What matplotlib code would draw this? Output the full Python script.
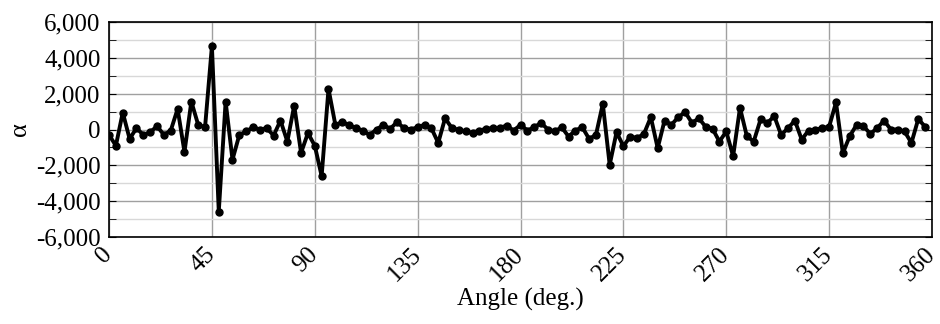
import numpy as np
import matplotlib
matplotlib.use("Agg")
import matplotlib.pyplot as plt
from matplotlib.ticker import FuncFormatter, MultipleLocator

plt.rcParams['font.family'] = ['Liberation Serif', 'DejaVu Serif']
plt.rcParams['mathtext.fontset'] = 'stix'

angles = np.arange(0, 360, 3)
alpha_values = [
    -300, -900, 950, -520, 75, -300, -150, 190, -300, -55,
    1150, -1250, 1560, 260, 130, 4650, -4580, 1560, -1680, -300,
    -110, 130, 0, 75, -335, 500, -670, 1340, -1300, -200,
    -900, -2600, 2270, 260, 410, 260, 75, -55, -300, 0,
    260, 40, 420, 75, 0, 130, 260, 75, -745, 630,
    75, -20, -110, -190, -55, 40, 75, 100, 220, -55,
    260, -55, 130, 370, 0, -110, 130, -390, -55, 130,
    -520, -300, 1430, -1970, -150, -930, -390, -480, -240, 690,
    -1040, 500, 260, 690, 970, 370, 630, 150, 40, -670,
    -110, -1490, 1210, -370, -670, 560, 370, 745, -300, 75,
    500, -560, -55, 0, 75, 160, 1510, -1320, -370, 260,
    190, -240, 75, 500, 0, 0, -110, -745, 590, 150,
]
x_ticks = [0, 45, 90, 135, 180, 225, 270, 315, 360]
y_ticks = [-6000, -4000, -2000, 0, 2000, 4000, 6000]

fig = plt.figure(figsize=(9.4, 3.24), dpi=100)
ax = fig.add_axes([0.116, 0.2685, 0.8755, 0.6635])

ax.plot(angles, alpha_values, color='black', lw=2.8, marker='o', ms=5, zorder=3)

ax.set_xlim(0, 360)
ax.set_ylim(-6000, 6000)
ax.set_xticks(x_ticks)
ax.set_yticks(y_ticks)
ax.yaxis.set_minor_locator(MultipleLocator(1000))
ax.yaxis.set_major_formatter(FuncFormatter(lambda v, p: f"{int(v):,}".replace('\u2212', '-')))

ax.grid(True, which='major', axis='both', color='#a0a0a0', lw=1.0)
ax.grid(True, which='minor', axis='y', color='#d8d8d8', lw=1.0)
ax.set_axisbelow(True)

ax.tick_params(axis='both', which='both', direction='in', right=True, top=False, labelsize=18)
ax.tick_params(axis='y', which='both', length=5, pad=6)
ax.tick_params(axis='x', which='major', length=0, pad=10)
for lab in ax.get_xticklabels():
    lab.set_rotation(45)
    lab.set_ha('right')
    lab.set_va('center')
    lab.set_rotation_mode('anchor')

for sp in ax.spines.values():
    sp.set_linewidth(1.2)

ax.set_xlabel('Angle (deg.)', fontsize=18, labelpad=2)
ax.set_ylabel('α', fontsize=19, labelpad=4)

fig.savefig('out.png', dpi=100)
